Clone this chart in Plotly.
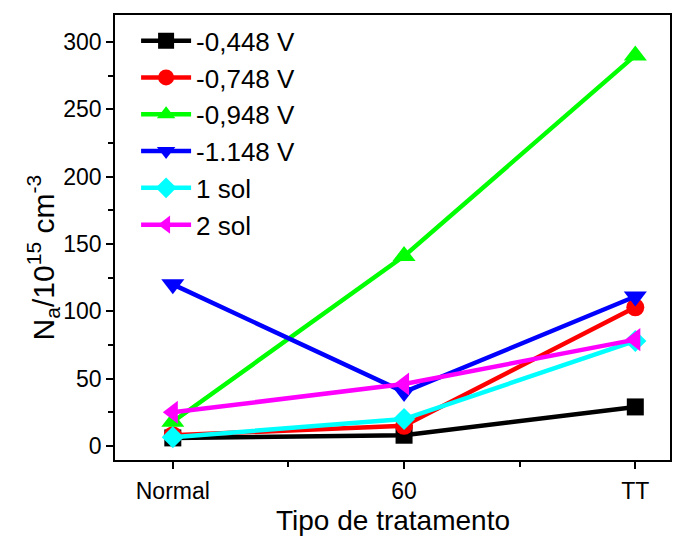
import plotly.graph_objects as go

categories = ["Normal", "60", "TT"]
x_pos = [1, 2, 3]
series_names = ["-0,448 V", "-0,748 V", "-0,948 V", "-1.148 V", "1 sol", "2 sol"]
v_0448 = [6, 8, 29]
v_0748 = [8, 15, 103]
v_0948 = [18, 141, 290]
v_1148 = [120, 40, 111]
v_1sol = [6.5, 20, 78]
v_2sol = [25, 46, 79]
y_ticks = [0, 50, 100, 150, 200, 250, 300]

series_values = [v_0448, v_0748, v_0948, v_1148, v_1sol, v_2sol]
colors = ["#000000", "#ff0000", "#00ff00", "#0000ff", "#00ffff", "#ff00ff"]
symbols = ["square", "circle", "triangle-up", "triangle-down", "diamond", "triangle-left"]
sizes = [17, 18, 20, 20, 17, 20]

FONT = "Arial, Liberation Sans, sans-serif"

fig = go.Figure()
for name, vals, c, s, sz in zip(series_names, series_values, colors, symbols, sizes):
    fig.add_trace(go.Scatter(
        x=x_pos, y=vals, name=name, mode="lines+markers",
        line=dict(color=c, width=4.5),
        marker=dict(symbol=s, size=sz, color=c, line=dict(width=0)),
    ))

axis_common = dict(
    showline=True, linecolor="black", linewidth=1.5, mirror=True,
    ticks="outside", ticklen=7, tickwidth=1.5, tickcolor="black",
    showgrid=False, zeroline=False, automargin=False,
    tickfont=dict(family=FONT, size=23, color="black"),
)

fig.update_layout(
    width=672, height=532,
    margin=dict(l=107, r=10, t=7, b=80),
    paper_bgcolor="white", plot_bgcolor="white",
    font=dict(family=FONT, color="black"),
    showlegend=True,
    legend=dict(
        x=0.038, y=0.995, xanchor="left", yanchor="top",
        bgcolor="rgba(0,0,0,0)", borderwidth=0,
        font=dict(family=FONT, size=26, color="black"),
        itemwidth=50, tracegroupgap=0,
    ),
    xaxis=dict(
        **axis_common,
        range=[0.75, 3.15],
        tickmode="array", tickvals=x_pos, ticktext=categories,
        ticklabelstandoff=3,
        minor=dict(tickmode="array", tickvals=[1.5, 2.5], ticks="outside", ticklen=5, tickwidth=1.5, tickcolor="black"),
    ),
    yaxis=dict(
        **axis_common,
        range=[-10.4, 320],
        tickmode="array", tickvals=y_ticks,
        minor=dict(dtick=25, ticks="outside", ticklen=5, tickwidth=1.5, tickcolor="black"),
    ),
    annotations=[
        dict(
            text="N<sub>a</sub>/10<sup>15</sup> cm<sup>-3</sup>",
            xref="paper", yref="paper", x=-0.13, y=0.455,
            xanchor="center", yanchor="middle", textangle=-90, showarrow=False,
            font=dict(family=FONT, size=30, color="black"),
        ),
        dict(
            text="Tipo de tratamento",
            xref="paper", yref="paper", x=0.5, y=-0.137,
            xanchor="center", yanchor="middle", showarrow=False,
            font=dict(family=FONT, size=28, color="black"),
        ),
    ],
)

fig.write_html("out.html")
